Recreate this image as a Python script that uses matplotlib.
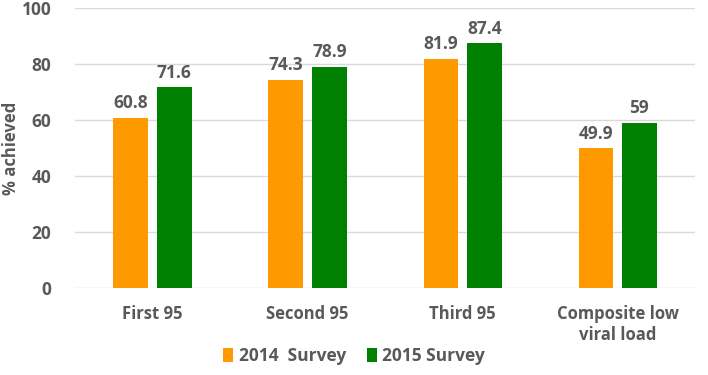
import matplotlib.pyplot as plt
import numpy as np

categories = ["First 95", "Second 95", "Third 95", "Composite low\nviral load"]
survey_2014 = [60.8, 74.3, 81.9, 49.9]
survey_2015 = [71.6, 78.9, 87.4, 59]
labels_2014 = ["60.8", "74.3", "81.9", "49.9"]
labels_2015 = ["71.6", "78.9", "87.4", "59"]
series_names = ["2014  Survey", "2015 Survey"]

plt.rcParams['font.family'] = ['Open Sans', 'DejaVu Sans']
txt = "#595959"

fig = plt.figure(figsize=(7.08, 3.75), dpi=100)
ax = fig.add_axes([0.106, 0.232, 0.876, 0.747])

x = np.arange(len(categories))
w = 0.225
off = 0.14
b1 = ax.bar(x - off, survey_2014, w, color="#FF9900", label=series_names[0], zorder=3)
b2 = ax.bar(x + off, survey_2015, w, color="#008000", label=series_names[1], zorder=3)

for bars, labs in ((b1, labels_2014), (b2, labels_2015)):
    for r, lab in zip(bars, labs):
        ax.text(r.get_x() + r.get_width() / 2, r.get_height() + 2, lab,
                ha="center", va="bottom", fontsize=12.5, fontweight="bold", color=txt)

ax.set_xlim(-0.5, 3.5)
ax.set_ylim(0, 100)
ax.set_yticks([0, 20, 40, 60, 80, 100])
ax.set_xticks(x)
ax.set_xticklabels(categories, fontsize=12, fontweight="bold", color=txt, linespacing=1.25)
ax.tick_params(axis="y", labelsize=12.5, labelcolor=txt, length=0, pad=17)
ax.tick_params(axis="x", length=0, pad=12)
for lab in ax.get_yticklabels():
    lab.set_fontweight("bold")
ax.set_ylabel("% achieved", fontsize=12, fontweight="bold", color=txt, va="center")
ax.yaxis.set_label_coords(-0.104, 0.5)
ax.yaxis.grid(True, color="#D9D9D9", linewidth=1, zorder=0)
for s in ax.spines.values():
    s.set_visible(False)

fig.legend(loc="lower center", bbox_to_anchor=(0.5, -0.015), ncol=2, frameon=False,
           prop={"size": 12.5, "weight": "bold"}, labelcolor=txt,
           handlelength=0.6, handleheight=0.9, handletextpad=0.3, columnspacing=1.2)

plt.savefig("out.png", dpi=100)
